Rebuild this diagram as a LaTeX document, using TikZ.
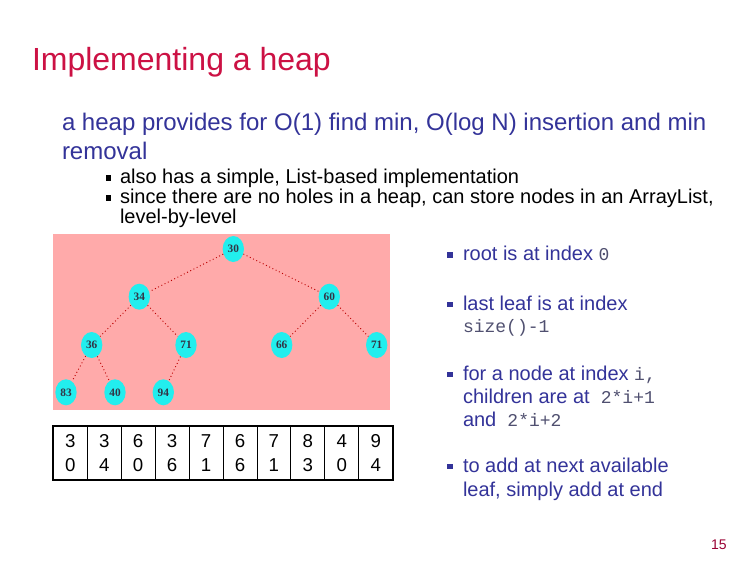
\documentclass[tikz,border=0pt]{standalone}
\usepackage{fontspec}
\usetikzlibrary{shapes.geometric}
\setmainfont{Liberation Sans}
\newfontfamily\monofam{Liberation Mono}
\newfontfamily\nodefam{Liberation Serif}
\definecolor{titlered}{HTML}{CC1144}
\definecolor{navy}{HTML}{333399}
\definecolor{monogray}{HTML}{505070}
\definecolor{pinkbg}{HTML}{FFAAAA}
\definecolor{heapcyan}{HTML}{22EEEE}
\definecolor{edgered}{HTML}{BB0000}
\definecolor{nodetext}{HTML}{333344}
\definecolor{pagered}{HTML}{990033}
\begin{document}
\begin{tikzpicture}[x=0.75pt,y=-0.75pt,
  txt/.style={anchor=base west,inner sep=0pt,outer sep=0pt},
  hnode/.style={ellipse,fill=heapcyan,minimum width=16pt,minimum height=19.5pt,inner sep=0pt,
     font=\nodefam\bfseries\fontsize{8.5}{9}\selectfont,text=nodetext},
  hedge/.style={edgered,dotted,line width=0.7pt},
  subbul/.style={rectangle,fill=black,minimum size=4.2pt,inner sep=0pt,outer sep=0pt},
  navybul/.style={rectangle,fill=navy,minimum size=4.2pt,inner sep=0pt,outer sep=0pt},
  cell/.style={minimum width=33.94*0.75pt,minimum height=54*0.75pt,inner sep=0pt,draw=black,line width=0.6pt,
     align=center,font=\fontsize{14}{18.5}\selectfont},
]
\useasboundingbox (0,0) rectangle (756,576);
\fill[white] (0,0) rectangle (756,576);

% title
\node[txt,text=titlered,font=\fontsize{24}{28}\selectfont] (title) at (32,70) {Implementing a heap};

% main bullet
\node[txt,text=navy,font=\fontsize{18}{21.6}\selectfont] (b1a) at (62,130) {a heap provides for O(1) find min, O(log N) insertion and min};
\node[txt,text=navy,font=\fontsize{18}{21.6}\selectfont] (b1b) at (62,159) {removal};

% sub bullets
\node[subbul] (s1) at (108.5,178) {};
\node[txt,font=\fontsize{15}{18}\selectfont] (s1t) at (120,183.5) {also has a simple, List-based implementation};
\node[subbul] (s2) at (108.5,198) {};
\node[txt,font=\fontsize{15}{18}\selectfont] (s2t) at (120,203.5) {since there are no holes in a heap, can store nodes in an ArrayList,};
\node[txt,font=\fontsize{15}{18}\selectfont] (s2u) at (120,223) {level-by-level};

% heap picture
\fill[pinkbg] (53,234) rectangle (390,410);
\node[hnode] (n30) at (233.3,249) {30};
\node[hnode] (n34) at (139.3,296.7) {34};
\node[hnode] (n60) at (329.3,296.7) {60};
\node[hnode] (n36) at (91.7,345) {36};
\node[hnode] (n71a) at (186,345) {71};
\node[hnode] (n66) at (281.7,345) {66};
\node[hnode] (n71b) at (376.7,345) {71};
\node[hnode] (n83) at (66,392.3) {83};
\node[hnode] (n40) at (115,392.3) {40};
\node[hnode] (n94) at (163.3,392.3) {94};
\draw[hedge] (n30) -- (n34);
\draw[hedge] (n30) -- (n60);
\draw[hedge] (n34) -- (n36);
\draw[hedge] (n34) -- (n71a);
\draw[hedge] (n60) -- (n66);
\draw[hedge] (n60) -- (n71b);
\draw[hedge] (n36) -- (n83);
\draw[hedge] (n36) -- (n40);
\draw[hedge] (n71a) -- (n94);

% array
\node[cell] (c0) at (70.27,453) {3\\0};
\node[cell] (c1) at (104.21,453) {3\\4};
\node[cell] (c2) at (138.15,453) {6\\0};
\node[cell] (c3) at (172.09,453) {3\\6};
\node[cell] (c4) at (206.03,453) {7\\1};
\node[cell] (c5) at (239.97,453) {6\\6};
\node[cell] (c6) at (273.91,453) {7\\1};
\node[cell] (c7) at (307.85,453) {8\\3};
\node[cell] (c8) at (341.79,453) {4\\0};
\node[cell] (c9) at (375.73,453) {9\\4};
\draw[line width=1.6pt] (c0.north west) rectangle (c9.south east);

% right bullets
\begin{scope}[every node/.append style={text=navy,font=\fontsize{15}{18}\selectfont}]
\node[navybul] (r1) at (450,255) {};
\node[txt] (r1t) at (463,260.5) {root is at index {\monofam\fontsize{13.5}{16}\selectfont\color{monogray}0}};
\node[navybul] (r2) at (450,304.5) {};
\node[txt] (r2t) at (463,310) {last leaf is at index};
\node[txt] (r2u) at (463,332) {\monofam\fontsize{13.5}{16}\selectfont\color{monogray}size()-1};
\node[navybul] (r3) at (450,374.5) {};
\node[txt] (r3t) at (463,380) {for a node at index {\monofam\fontsize{13.5}{16}\selectfont\color{monogray}i,}};
\node[txt] (r3u) at (463,403.5) {children are at \ {\monofam\fontsize{13.5}{16}\selectfont\color{monogray}2*i+1}};
\node[txt] (r3v) at (463,426) {and \ {\monofam\fontsize{13.5}{16}\selectfont\color{monogray}2*i+2}};
\node[navybul] (r4) at (450,466.5) {};
\node[txt] (r4t) at (463,472) {to add at next available};
\node[txt] (r4u) at (463,496) {leaf, simply add at end};
\end{scope}

% page number
\node[txt,text=pagered,font=\fontsize{10.5}{12}\selectfont] (pg) at (711,549) {15};
\end{tikzpicture}
\end{document}
